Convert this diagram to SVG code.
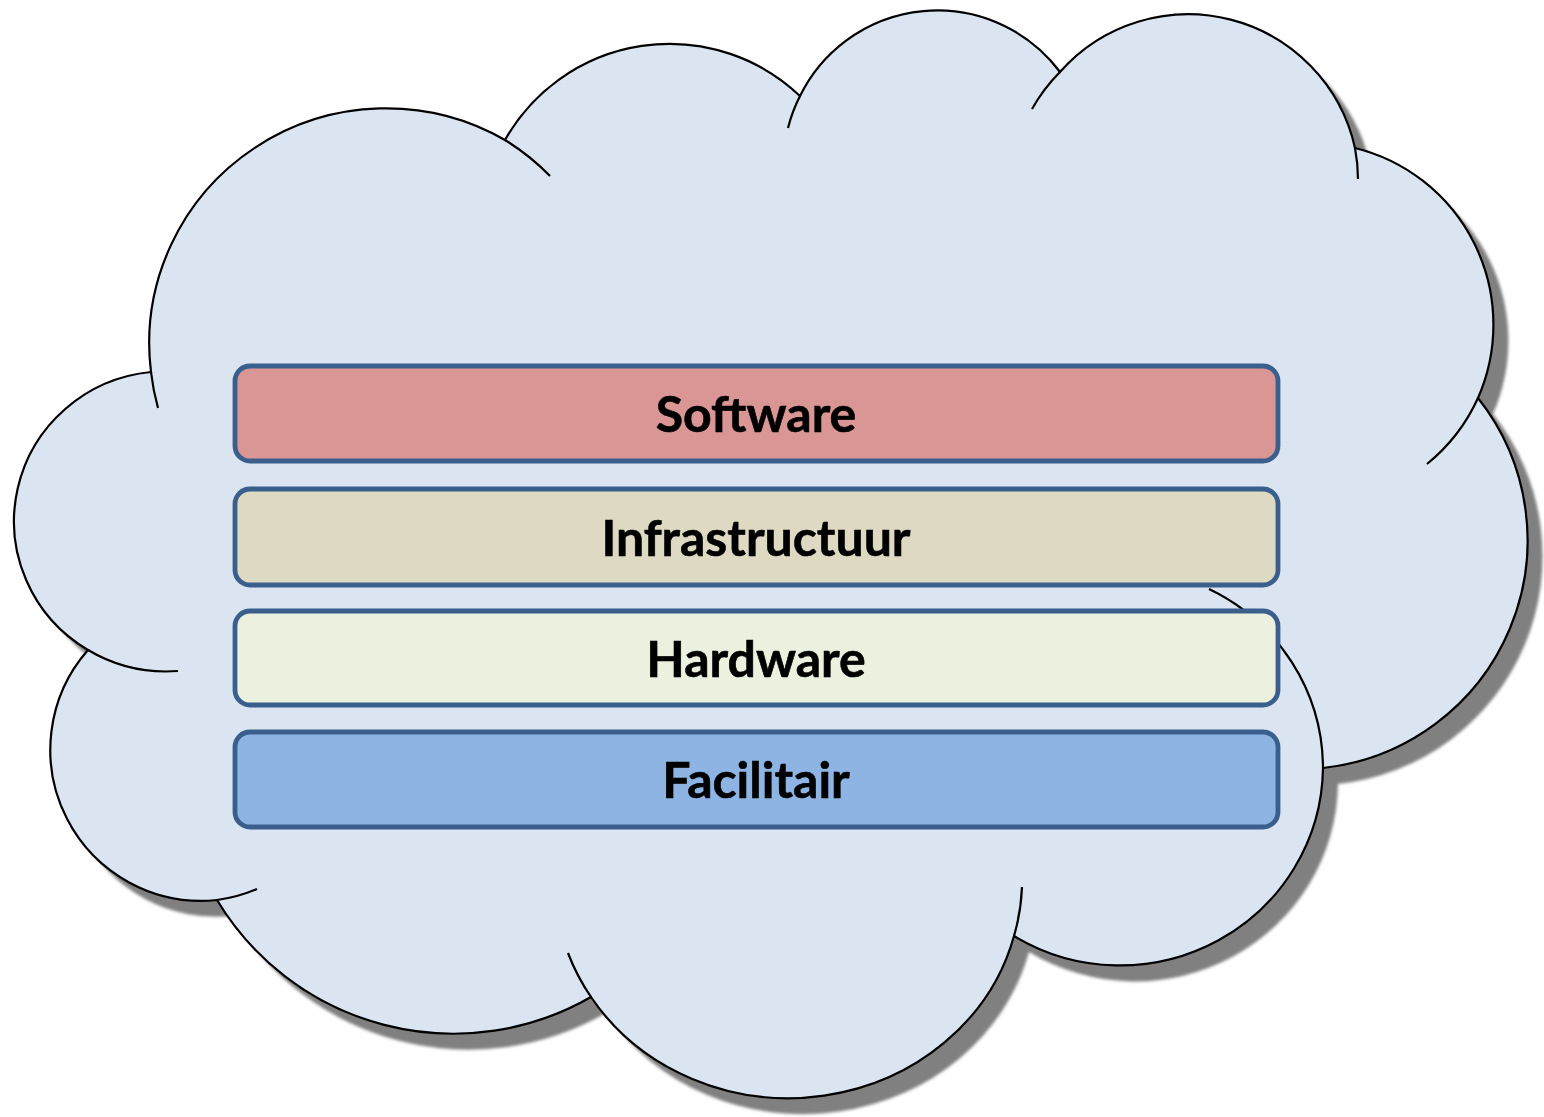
<svg xmlns="http://www.w3.org/2000/svg" width="1544" height="1117" viewBox="0 0 1544 1117">
  <defs>
    <!-- soft drop shadow behind the cloud -->
    <filter id="soft" x="-5%" y="-5%" width="110%" height="110%">
      <feGaussianBlur stdDeviation="1.8"/>
    </filter>
    <!-- outer silhouette of the cloud, built from eleven elliptical lobes -->
    <path id="cloudShape" d="M 88 650
      A 152 150 0 0 1 151 372
      A 237 235 0 0 1 505 140
      A 189 189 0 0 1 800 96
      A 153 153 0 0 1 1060 72
      A 171 171 0 0 1 1355 148
      A 182 182 0 0 1 1478 398
      A 229 229 0 0 1 1323 768
      A 203 200 0 0 1 1014 936
      A 233 216 0 0 1 591 997
      A 276 276 0 0 1 217 900
      A 151 151 0 0 1 88 650 Z"/>
  </defs>
  <style>
    .outline { fill: none; stroke: #000000; stroke-width: 2.2; stroke-linecap: butt; }
    .layer rect { stroke: #3a5f8c; stroke-width: 4.8; }
    .layer text { font-family: Lato, "Open Sans", "Liberation Sans", sans-serif; font-weight: bold; font-size: 50px; fill: #000000; text-anchor: middle; stroke: #000000; stroke-width: 0.6; }
  </style>

  <rect x="0" y="0" width="1544" height="1117" fill="#ffffff"/>

  <!-- cloud background -->
  <g id="cloud">
    <use href="#cloudShape" transform="translate(15,16)" fill="#808080" filter="url(#soft)"/>
    <use href="#cloudShape" fill="#dbe5f1" stroke="#000000" stroke-width="2.2"/>
    <!-- inner lobe tails -->
    <path class="outline" d="M 88 650 A 152 150 0 0 0 178 671"/>
    <path class="outline" d="M 151 372 A 237 235 0 0 0 158 408"/>
    <path class="outline" d="M 505 140 A 237 235 0 0 1 550 176"/>
    <path class="outline" d="M 800 96 A 153 153 0 0 0 788 128"/>
    <path class="outline" d="M 1060 72 A 171 171 0 0 0 1032 109"/>
    <path class="outline" d="M 1355 148 A 171 171 0 0 1 1358 179"/>
    <path class="outline" d="M 1478 398 A 182 182 0 0 1 1427 464"/>
    <path class="outline" d="M 1323 768 A 203 200 0 0 0 1209 589"/>
    <path class="outline" d="M 1014 936 A 233 216 0 0 0 1022 887"/>
    <path class="outline" d="M 591 997 A 233 216 0 0 1 568 953"/>
    <path class="outline" d="M 217 900 A 151 151 0 0 0 257 889"/>
  </g>

  <!-- stacked layers -->
  <g id="software" class="layer">
    <rect x="235" y="366" width="1043" height="95" rx="15" ry="15" fill="#d99694"/>
    <text x="756" y="432">Software</text>
  </g>
  <g id="infrastructuur" class="layer">
    <rect x="235" y="489" width="1043" height="96" rx="15" ry="15" fill="#ddd9c3"/>
    <text x="756" y="556">Infrastructuur</text>
  </g>
  <g id="hardware" class="layer">
    <rect x="235" y="611" width="1043" height="94" rx="15" ry="15" fill="#ebf1de"/>
    <text x="756" y="677">Hardware</text>
  </g>
  <g id="facilitair" class="layer">
    <rect x="235" y="732" width="1043" height="95" rx="15" ry="15" fill="#8eb4e3"/>
    <text x="756" y="798">Facilitair</text>
  </g>
</svg>
